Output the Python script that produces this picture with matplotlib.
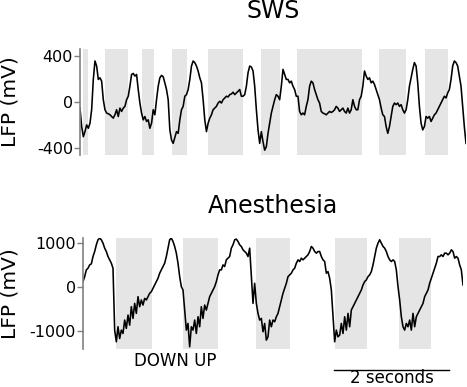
import numpy as np
import matplotlib
matplotlib.use("Agg")
import matplotlib.pyplot as plt
import matplotlib.transforms as mtransforms

plt.rcParams['axes.unicode_minus'] = False
plt.rcParams['font.family'] = ['DejaVu Sans']

# ---------------- data ----------------
sws_dt = 0.029  # seconds per sample
sws_lfp = [
    -53, -213, -301, -257, -199, -228, -184, -67, 196, 356, 312, 196, 210, 181, 20, -67,
    -96, -102, -111, -126, -140, -111, -67, -126, -53, -82, -53, -38, 20, 50, 137, 239,
    248, 225, 239, 108, -9, -96, -155, -126, -169, -155, -228, -184, -67, -111, 20, 137,
    210, 231, 219, 166, 108, 20, -242, -330, -359, -307, -257, -272, -155, -67, -38, 50,
    64, 108, 196, 312, 356, 342, 312, 269, 210, 166, 20, -155, -257, -184, -140, -111,
    -67, -53, -38, -9, 6, -9, 20, 35, 50, 44, 64, 70, 85, 64, 79, 93,
    108, 50, 50, 64, 137, 254, 312, 304, 269, 137, -67, -242, -359, -257, -345, -418,
    -388, -272, -184, -96, -38, 20, 64, 50, 20, 137, 283, 239, 196, 196, 166, 181,
    137, 108, 50, 50, -82, -111, -96, -111, -38, 20, 137, 181, 166, 108, 64, 20,
    -9, -82, -96, -102, -111, -96, -82, -91, -82, -67, -38, -53, -82, -67, -53, -82,
    -96, -53, -96, -67, 20, -38, -67, -67, 20, 50, 137, 269, 225, 196, 210, 166,
    181, 152, 108, 64, 20, -53, -111, -126, -213, -272, -213, -126, -38, -9, -23, -9,
    -38, -23, -67, -96, -67, 20, 137, 210, 283, 342, 312, 166, -38, -184, -242, -213,
    -126, -140, -126, -169, -140, -111, -96, -67, -38, -9, 20, 50, 35, 79, 108, 196,
    312, 356, 342, 312, 225, 137, -38, -213, -359,
]
sws_down = [(0.058, 0.145), (0.435, 0.829), (1.072, 1.293), (1.606, 1.861),
            (2.232, 2.841), (3.148, 3.478), (3.780, 4.916), (5.217, 5.681),
            (6.012, 6.417)]
sws_yticks = [-400, 0, 400]
sws_ylim = (-460, 460)

anes_dt = 0.029
anes_lfp = [
    121, 234, 385, 423, 498, 521, 687, 800, 951, 1065, 1102, 1065, 989, 876, 800, 687,
    612, 536, 423, -974, -1238, -898, -1163, -974, -1049, -747, -936, -634, -861, -445, -710, -370,
    -596, -219, -445, -294, -408, -257, -294, -219, -143, -106, -30, 45, 121, 196, 310, 385,
    461, 536, 687, 876, 1065, 1102, 1027, 914, 763, 536, 234, 8, -68, -521, -974, -823,
    -1351, -898, -974, -747, -1049, -672, -898, -445, -710, -408, -521, -370, -219, -143, -68, 8,
    121, 272, 385, 385, 498, 461, 612, 649, 687, 876, 951, 1065, 1080, 1027, 951, 914,
    838, 800, 763, 687, 876, 234, -370, 83, -370, -596, -747, -710, -1012, -823, -1200, -1125,
    -747, -898, -747, -785, -672, -596, -445, -294, -143, -30, 83, 234, 272, 310, 385, 423,
    536, 612, 574, 649, 612, 649, 687, 725, 800, 914, 876, 800, 763, 800, 800, 687,
    612, 574, 310, 347, 196, -68, -672, -1238, -974, -1125, -1087, -823, -1049, -672, -974, -596,
    -898, -521, -445, -370, -294, -219, -143, -68, 45, 121, 159, 234, 272, 347, 498, 687,
    876, 989, 1065, 989, 914, 876, 800, 687, 612, 574, 612, 574, 385, 8, -294, -672,
    -898, -974, -823, -898, -747, -974, -596, -898, -672, -596, -521, -445, -370, -219, -143, -68,
    83, 196, 310, 423, 536, 687, 687, 725, 687, 763, 763, 725, 763, 838, 800, 649,
    687, 649, 498, 385, 45,
]
anes_down = [(0.568, 1.194), (1.745, 2.348), (3.003, 3.594), (4.388, 4.933),
             (5.507, 6.058)]
anes_yticks = [-1000, 0, 1000]
anes_ylim = (-1400, 1105)

scalebar_start = 4.37
scalebar_len = 2.0

# ---------------- figure ----------------
W, H = 467, 387
fig = plt.figure(figsize=(W / 100, H / 100), dpi=100)
ax1 = fig.add_axes([80 / W, 1 - 155 / H, 386 / W, 106 / H])
ax2 = fig.add_axes([83 / W, 1 - 349 / H, 380 / W, 111 / H])

panels = [
    (ax1, sws_lfp, sws_dt, sws_down, sws_yticks, sws_ylim, 'SWS', 22, -0.158),
    (ax2, anes_lfp, anes_dt, anes_down, anes_yticks, anes_ylim, 'Anesthesia', 18, -0.168),
]

for ax, lfp, dt, down, yt, yl, title, pad, lx in panels:
    t = np.arange(len(lfp)) * dt
    for a, b in down:
        ax.axvspan(a, b, color='#e5e5e5', lw=0, zorder=0)
    ax.plot(t, lfp, color='black', lw=1.15, zorder=2)
    ax.set_xlim(t[0], t[-1])
    ax.set_ylim(*yl)
    ax.set_yticks(yt)
    ax.set_yticklabels([str(v) for v in yt])
    ax.set_xticks([])
    for s in ['top', 'right', 'bottom']:
        ax.spines[s].set_visible(False)
    ax.spines['left'].set_color('0.5')
    ax.spines['left'].set_linewidth(1.2)
    ax.tick_params(axis='y', length=4, width=1, color='0.5', labelsize=11.5, pad=1)
    ax.set_title(title, fontsize=17, pad=pad)
    ax.set_ylabel('LFP (mV)', fontsize=14.5)
    ax.yaxis.set_label_coords(lx, 0.5)

trans = mtransforms.blended_transform_factory(ax2.transData, ax2.transAxes)
ax2.plot([scalebar_start, scalebar_start + scalebar_len], [-0.19, -0.19],
         transform=trans, color='black', lw=1, clip_on=False)
ax2.text(scalebar_start + scalebar_len / 2, -0.305, '2 seconds', transform=trans,
         ha='center', va='baseline', fontsize=12)
ax2.text(1.6, -0.153, 'DOWN UP', transform=trans, ha='center', va='baseline', fontsize=12)

fig.savefig('out.png', dpi=100)
